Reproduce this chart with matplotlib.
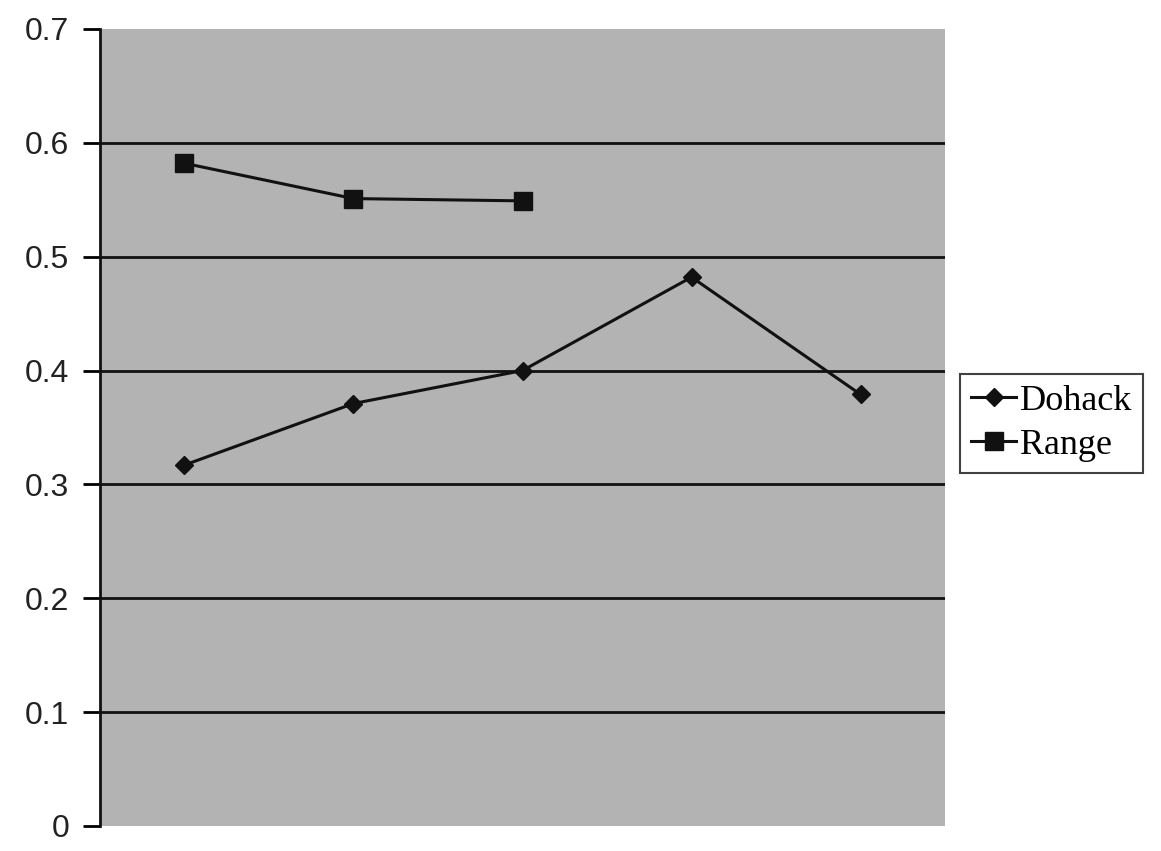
import matplotlib.pyplot as plt

# data
categories = [1, 2, 3, 4, 5]
dohack = [0.317, 0.371, 0.400, 0.482, 0.379]
range_cat = [1, 2, 3]
range_vals = [0.582, 0.551, 0.549]
yticks = [0, 0.1, 0.2, 0.3, 0.4, 0.5, 0.6, 0.7]

fig = plt.figure(figsize=(11.61, 8.51), dpi=100)
ax = fig.add_axes([0.0861, 0.0294, 0.7279, 0.9366])
ax.set_facecolor("#b3b3b3")

ax.plot(categories, dohack, color="#111111", lw=2.2, marker="D",
        markersize=9, label="Dohack", zorder=3)
ax.plot(range_cat, range_vals, color="#111111", lw=2.2, marker="s",
        markersize=13, label="Range", zorder=3)

ax.set_xlim(0.5, 5.5)
ax.set_ylim(0, 0.7)
ax.set_yticks(yticks)
ax.set_yticklabels(["0", "0.1", "0.2", "0.3", "0.4", "0.5", "0.6", "0.7"],
                   fontfamily="Liberation Sans", fontsize=23, color="#222222")
ax.set_xticks([])
ax.tick_params(axis="y", direction="out", length=12, width=2, pad=10)

# horizontal gridlines
for y in yticks[1:-1]:
    ax.axhline(y, color="#111111", lw=2, zorder=1)

for s in ["top", "right", "bottom"]:
    ax.spines[s].set_visible(False)
ax.spines["left"].set_linewidth(2)
ax.spines["left"].set_color("#111111")

leg = fig.legend(loc="upper left", bbox_to_anchor=(0.827, 0.561),
                 prop={"family": "Liberation Serif", "size": 26},
                 frameon=True, fancybox=False, handlelength=1.25,
                 handletextpad=0.1, borderpad=0.3, labelspacing=0.3,
                 borderaxespad=0)
leg.get_frame().set_edgecolor("#111111")
leg.get_frame().set_linewidth(1.5)

fig.savefig("out.png", dpi=100)
